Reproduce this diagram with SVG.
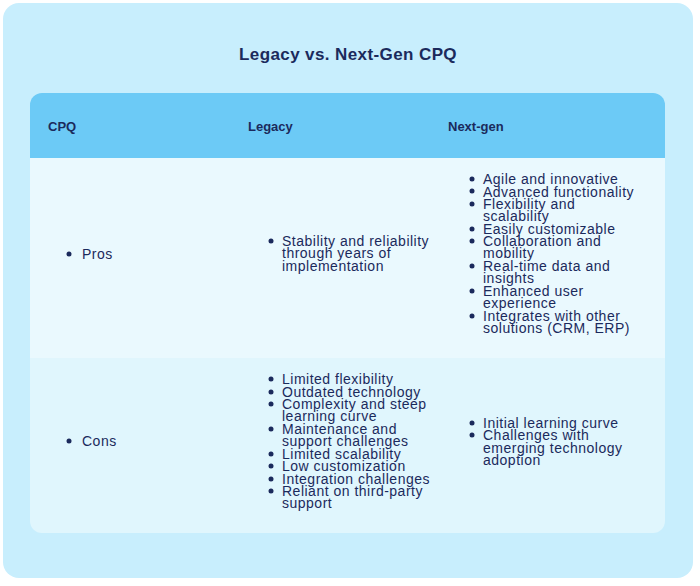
<svg xmlns="http://www.w3.org/2000/svg" width="700" height="586" viewBox="0 0 700 586">
<style>
text{font-family:"Liberation Sans",Arial,sans-serif;fill:#1b2a5c}
.h{font-weight:bold;font-size:13px}
.t{font-size:14px;letter-spacing:0.5px}
.b{fill:#1b2a5c}
</style>
<rect x="3" y="3" width="690" height="575" rx="16" fill="#c8eefd"/>
<text x="348" y="60" text-anchor="middle" font-weight="bold" font-size="17" letter-spacing="0.4">Legacy vs. Next-Gen CPQ</text>
<g id="header">
<path d="M42 93H653A12 12 0 0 1 665 105V158H30V105A12 12 0 0 1 42 93Z" fill="#6ccaf6"/>
<text class="h" x="48" y="131">CPQ</text>
<text class="h" x="248" y="131">Legacy</text>
<text class="h" x="448" y="131">Next-gen</text>
</g>
<g id="row-pros">
<rect x="30" y="158" width="635" height="200" fill="#eaf9fe"/>
<circle class="b" cx="69" cy="254" r="2.5"/><text class="t" x="82" y="259">Pros</text>
<circle class="b" cx="271" cy="241" r="2.5"/><text class="t" x="282" y="246">Stability and reliability</text>
<text class="t" x="282" y="258">through years of</text>
<text class="t" x="282" y="271">implementation</text>
<circle class="b" cx="472" cy="179" r="2.5"/><text class="t" x="483" y="184">Agile and innovative</text>
<circle class="b" cx="472" cy="191" r="2.5"/><text class="t" x="483" y="196.5">Advanced functionality</text>
<circle class="b" cx="472" cy="204" r="2.5"/><text class="t" x="483" y="209">Flexibility and</text>
<text class="t" x="483" y="221">scalability</text>
<circle class="b" cx="472" cy="229" r="2.5"/><text class="t" x="483" y="234">Easily customizable</text>
<circle class="b" cx="472" cy="241" r="2.5"/><text class="t" x="483" y="246">Collaboration and</text>
<text class="t" x="483" y="258">mobility</text>
<circle class="b" cx="472" cy="266" r="2.5"/><text class="t" x="483" y="271">Real-time data and</text>
<text class="t" x="483" y="283">insights</text>
<circle class="b" cx="472" cy="291" r="2.5"/><text class="t" x="483" y="296">Enhanced user</text>
<text class="t" x="483" y="308">experience</text>
<circle class="b" cx="472" cy="316" r="2.5"/><text class="t" x="483" y="321">Integrates with other</text>
<text class="t" x="483" y="333">solutions (CRM, ERP)</text>
</g>
<g id="row-cons">
<path d="M30 358H665V521A12 12 0 0 1 653 533H42A12 12 0 0 1 30 521Z" fill="#e0f6fd"/>
<circle class="b" cx="69" cy="441" r="2.5"/><text class="t" x="82" y="446">Cons</text>
<circle class="b" cx="271" cy="379" r="2.5"/><text class="t" x="282" y="384">Limited flexibility</text>
<circle class="b" cx="271" cy="392" r="2.5"/><text class="t" x="282" y="397">Outdated technology</text>
<circle class="b" cx="271" cy="404" r="2.5"/><text class="t" x="282" y="409">Complexity and steep</text>
<text class="t" x="282" y="421">learning curve</text>
<circle class="b" cx="271" cy="429" r="2.5"/><text class="t" x="282" y="434">Maintenance and</text>
<text class="t" x="282" y="446">support challenges</text>
<circle class="b" cx="271" cy="454" r="2.5"/><text class="t" x="282" y="459">Limited scalability</text>
<circle class="b" cx="271" cy="466" r="2.5"/><text class="t" x="282" y="471">Low customization</text>
<circle class="b" cx="271" cy="479" r="2.5"/><text class="t" x="282" y="484">Integration challenges</text>
<circle class="b" cx="271" cy="491" r="2.5"/><text class="t" x="282" y="496">Reliant on third-party</text>
<text class="t" x="282" y="508">support</text>
<circle class="b" cx="472" cy="423" r="2.5"/><text class="t" x="483" y="428">Initial learning curve</text>
<circle class="b" cx="472" cy="435" r="2.5"/><text class="t" x="483" y="440">Challenges with</text>
<text class="t" x="483" y="453">emerging technology</text>
<text class="t" x="483" y="465">adoption</text>
</g>
<g id="connectors"/>
</svg>
